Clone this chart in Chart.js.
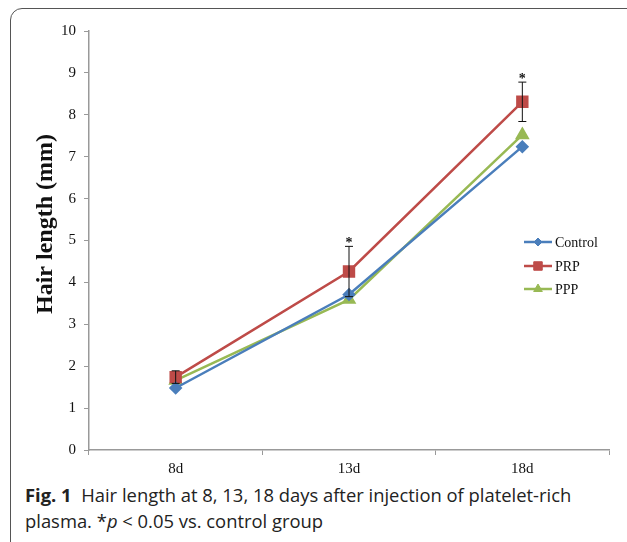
<!DOCTYPE html>
<html>
<head>
<meta charset="utf-8">
<script src="https://cdn.jsdelivr.net/npm/chart.js@4.4.0/dist/chart.umd.min.js"></script>
<style>
    body { margin: 0; background: #fff; width: 627px; height: 542px; overflow: hidden; position: relative; }
    #frame {
        position: absolute; left: 10px; top: 8px; width: 640px; height: 560px;
        border: 1.5px solid #555; border-radius: 12px; box-sizing: border-box;
    }
    #wrap { position: absolute; left: 0; top: 0; width: 627px; height: 480px; }
    #caption {
        position: absolute; left: 25px; top: 482px; width: 600px; white-space: nowrap;
        font-family: "Open Sans", sans-serif; font-size: 18.4px; line-height: 26px; color: #222;
    }
    #caption b { font-weight: 700; }
</style>
</head>
<body>
<div id="frame"></div>
<div id="wrap"><canvas id="hairChart" width="627" height="480"></canvas></div>
<div id="caption"><b>Fig. 1</b>&nbsp; Hair length at 8, 13, 18 days after injection of platelet-rich<br>plasma. *<i>p</i> &lt; 0.05 vs. control group</div>
<script>
// du lieu
var days = ["8d", "13d", "18d"];
var controlData = [1.48, 3.71, 7.24];
var prpData = [1.74, 4.26, 8.31];
var pppData = [1.66, 3.59, 7.52];
var prpErr = [0.15, 0.6, 0.47]; // sai so PRP
var starMarks = [false, true, true]; // *p < 0.05
var yTitle = "Hair length (mm)";

var serif = "'Liberation Serif', 'Times New Roman', serif";

// ve thanh sai so + dau sao
var errorBars = {
    id: "errorBars",
    afterDatasetsDraw: function (chart) {
        var c = chart.ctx;
        var meta = chart.getDatasetMeta(1);
        var y = chart.scales.y;
        c.save();
        c.strokeStyle = "#111";
        c.lineWidth = 1;
        meta.data.forEach(function (pt, i) {
            var top = y.getPixelForValue(prpData[i] + prpErr[i]);
            var bot = y.getPixelForValue(prpData[i] - prpErr[i]);
            c.beginPath();
            c.moveTo(pt.x, top); c.lineTo(pt.x, bot);
            c.moveTo(pt.x - 4, top); c.lineTo(pt.x + 4, top);
            c.moveTo(pt.x - 4, bot); c.lineTo(pt.x + 4, bot);
            c.stroke();
            if (starMarks[i]) {
                c.fillStyle = "#111";
                c.font = "bold 14px " + serif;
                c.textAlign = "center";
                c.textBaseline = "middle";
                c.fillText("*", pt.x, top - 3);
            }
        });
        c.restore();
    },
};

// chu giai ben trong bieu do + tieu de truc y
var innerLegend = {
    id: "innerLegend",
    afterDraw: function (chart) {
        var c = chart.ctx;
        var rows = [242, 266, 289];
        c.save();
        chart.data.datasets.forEach(function (ds, i) {
            var yy = rows[i];
            c.strokeStyle = ds.borderColor;
            c.lineWidth = 2.5;
            c.beginPath();
            c.moveTo(524, yy); c.lineTo(552, yy);
            c.stroke();
            c.fillStyle = ds.borderColor;
            c.lineWidth = 1;
            Chart.helpers.drawPoint(c, { pointStyle: ds.pointStyle, radius: ds.pointRadius - 1, borderWidth: 1 }, 538, yy);
            c.fillStyle = "#111";
            c.font = "14px " + serif;
            c.textAlign = "left";
            c.textBaseline = "middle";
            c.fillText(ds.label, 555, yy + 1);
        });
        // tieu de truc y
        c.translate(46, 224);
        c.rotate(-Math.PI / 2);
        c.fillStyle = "#111";
        c.font = "bold 24px " + serif;
        c.textAlign = "center";
        c.textBaseline = "middle";
        c.fillText(yTitle, 0, 0);
        c.restore();
    },
};

var ctx = document.getElementById("hairChart").getContext("2d");
var hairChart = new Chart(ctx, {
    type: "line",
    data: {
        labels: days,
        datasets: [
            {
                label: "Control",
                data: controlData,
                borderColor: "#4a7ebb",
                backgroundColor: "#4a7ebb",
                pointStyle: "rectRot",
                pointRadius: 5,
                borderWidth: 2.5,
            },
            {
                label: "PRP",
                data: prpData,
                borderColor: "#be4b48",
                backgroundColor: "#be4b48",
                pointStyle: "rect",
                pointRadius: 7,
                borderWidth: 2.5,
            },
            {
                label: "PPP",
                data: pppData,
                borderColor: "#98b954",
                backgroundColor: "#98b954",
                pointStyle: "triangle",
                pointRadius: 6,
                borderWidth: 2.5,
            },
        ],
    },
    options: {
        responsive: false,
        animation: false,
        layout: { padding: { top: 31, right: 18, left: 0, bottom: 0 } },
        plugins: { legend: { display: false }, tooltip: { enabled: false } },
        scales: {
            x: {
                offset: true,
                grid: { offset: true, drawOnChartArea: false, tickLength: 5, color: "#999" },
                border: { color: "#999", width: 1.5 },
                ticks: { color: "#111", font: { family: serif, size: 15 }, padding: 5 },
                afterFit: function (s) { s.height = 30; },
            },
            y: {
                min: 0,
                max: 10,
                ticks: { stepSize: 1, color: "#111", font: { family: serif, size: 15 }, padding: 8 },
                grid: { drawOnChartArea: false, tickLength: 5, color: "#999" },
                border: { color: "#999", width: 1.5 },
                afterFit: function (s) { s.width = 89; },
            },
        },
    },
    plugins: [errorBars, innerLegend],
});
</script>
</body>
</html>
